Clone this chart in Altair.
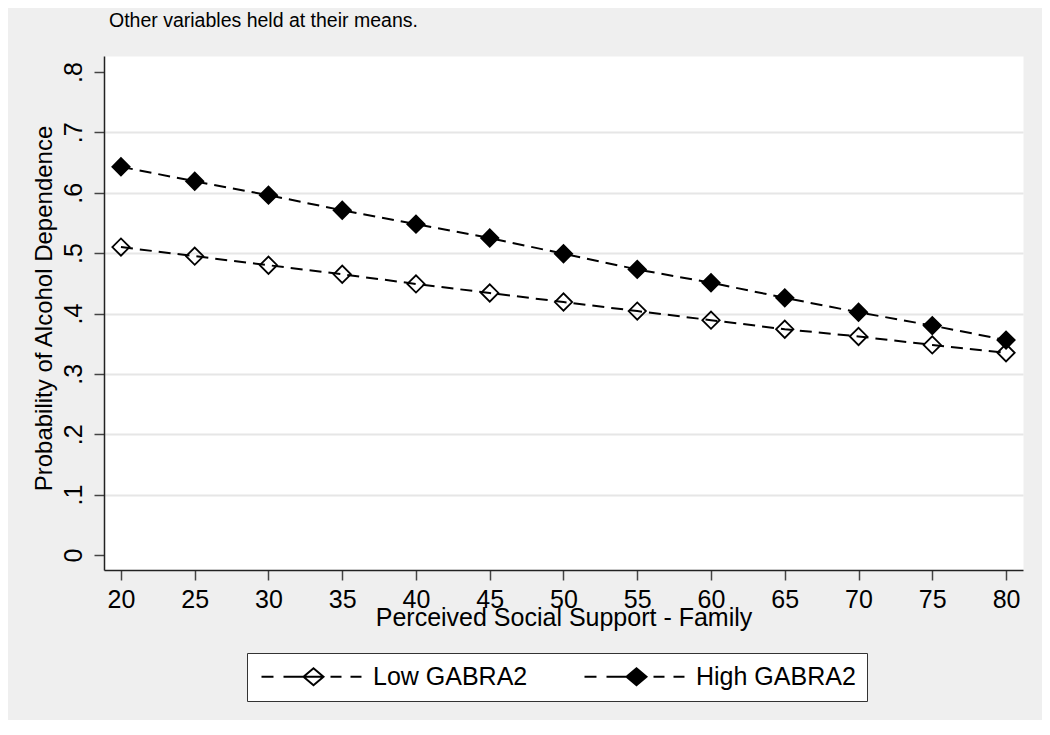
import altair as alt
import pandas as pd

# ---- data ----
x_vals = [20, 25, 30, 35, 40, 45, 50, 55, 60, 65, 70, 75, 80]
low_vals = [0.510, 0.495, 0.480, 0.465, 0.449, 0.434, 0.419, 0.404, 0.389, 0.374, 0.362, 0.348, 0.335]
high_vals = [0.643, 0.619, 0.596, 0.571, 0.548, 0.525, 0.499, 0.473, 0.451, 0.426, 0.402, 0.380, 0.356]
series_names = ["Low GABRA2", "High GABRA2"]
x_ticks = [20, 25, 30, 35, 40, 45, 50, 55, 60, 65, 70, 75, 80]
y_ticks = [0, 0.1, 0.2, 0.3, 0.4, 0.5, 0.6, 0.7, 0.8]

rows = []
for name, vals in zip(series_names, [low_vals, high_vals]):
    for x, v in zip(x_vals, vals):
        rows.append({"x": x, "p": v, "group": name})
df = pd.DataFrame(rows)

FONT = "Liberation Sans"

x_enc = alt.X(
    "x:Q",
    scale=alt.Scale(domain=[18.85, 81.15], nice=False, zero=False),
    axis=alt.Axis(
        values=x_ticks,
        title="Perceived Social Support - Family",
        grid=False,
        labelPadding=7,
        titleBaseline="alphabetic",
        titleY=55,
        titleAnchor="middle",
    ),
)
y_enc = alt.Y(
    "p:Q",
    scale=alt.Scale(domain=[-0.0248, 0.8265], nice=False, zero=False),
    axis=alt.Axis(
        values=y_ticks,
        title="Probability of Alcohol Dependence",
        labelAngle=270,
        labelPadding=8,
        labelExpr="datum.value == 0 ? '0' : replace(format(datum.value, '.1f'), '0.', '.')",
        grid=True,
        gridColor="#e6e6e6",
        gridWidth=2,
        gridOpacity={"condition": {"test": "datum.value < 0.05 || datum.value > 0.75", "value": 0}, "value": 1},
        titleAngle=270,
        titleX=-60,
        titleY=252,
        titleFontSize=24,
        titleBaseline="middle",
        titleAlign="center",
    ),
)

# legend key: dashed line with a diamond in the middle (unit = half symbol size)
legend_path = ("M-1,0H0.333M1.444,0H5.889"
               "M3.667,0L4.778,-0.944L5.889,0L4.778,0.944Z"
               "M6.667,0H7.889M8.889,0H10.111")

base = alt.Chart(df)

lines = base.mark_line(color="black", strokeDash=[12, 7], strokeWidth=2).encode(
    x=x_enc, y=y_enc, detail="group:N"
)

points = base.mark_point(
    shape="diamond", filled=True, size=300, stroke="black", strokeWidth=1.8, opacity=1
).encode(
    x=x_enc,
    y=y_enc,
    fill=alt.Fill(
        "group:N",
        scale=alt.Scale(domain=series_names, range=["rgba(0,0,0,0)", "black"]),
        legend=alt.Legend(
            title=None,
            orient="none",
            legendX=143,
            legendY=597,
            direction="horizontal",
            symbolType=legend_path,
            symbolSize=18 * 18,
            symbolStrokeColor="black",
            symbolStrokeWidth=2,
            symbolOpacity=1,
            labelFont=FONT,
            labelFontSize=25,
            labelColor="black",
            labelOffset=90,
            labelExpr="datum.label == 'High GABRA2' ? datum.label + '\u00a0\u00a0\u00a0' : datum.label",
            columnPadding=52,
            padding=11,
            fillColor="white",
            strokeColor="#333333",
        ),
    ),
)

chart = (
    alt.layer(lines, points)
    .properties(
        width=919,
        height=514,
        autosize=alt.AutoSizeParams(type="none"),
        padding={"left": 96, "top": 48, "right": 19, "bottom": 150},
        background="#efefef",
        title=alt.Title(
            "Other variables held at their means.",
            anchor="start",
            frame="group",
            font=FONT,
            fontSize=19.5,
            fontWeight="normal",
            color="black",
            baseline="alphabetic",
            offset=10,
            dx=5,
        ),
    )
    .configure_view(fill="white", stroke="transparent")
    .configure_axis(
        domainColor="#222222",
        domainWidth=1.5,
        tickColor="#444444",
        tickWidth=1.5,
        tickSize=10,
        labelFont=FONT,
        labelFontSize=25,
        labelColor="black",
        titleFont=FONT,
        titleFontSize=25,
        titleFontWeight="normal",
        titleColor="black",
    )
)

chart.save("out.html", embed_options={"renderer": "svg", "actions": False})
